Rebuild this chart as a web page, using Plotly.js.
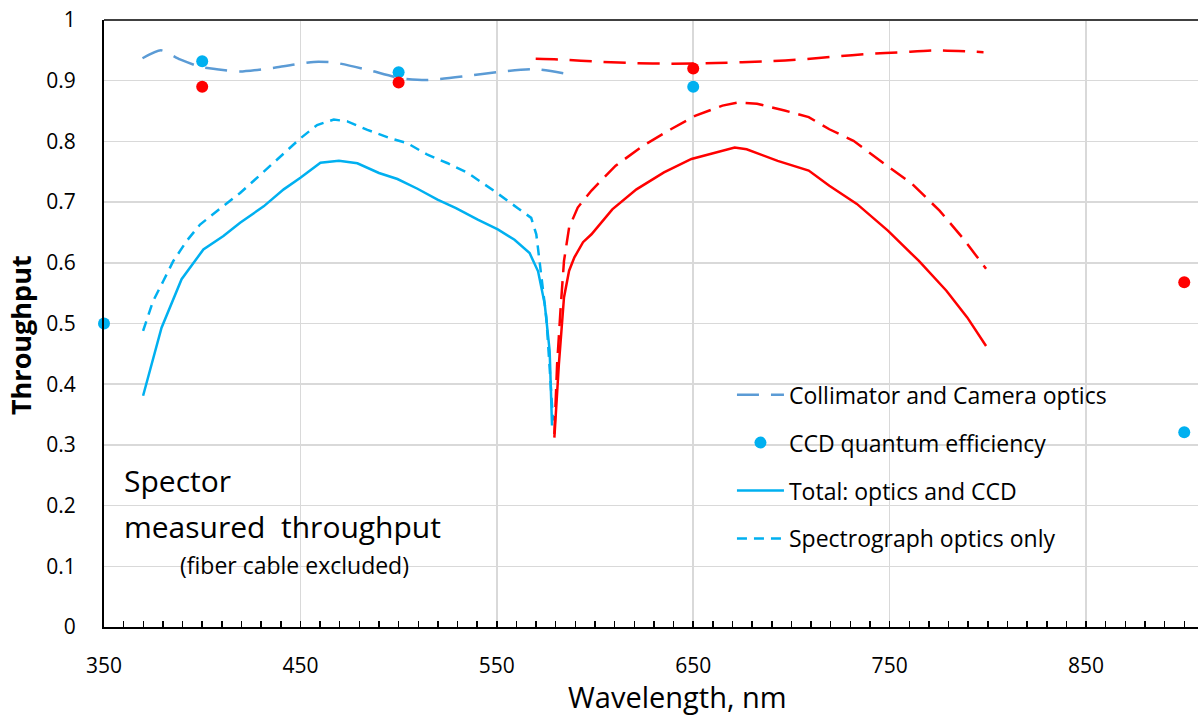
<!DOCTYPE html>
<html>
<head>
<meta charset="utf-8">
<script src="https://cdn.plot.ly/plotly-3.0.1.min.js"></script>
<style>
html,body{margin:0;padding:0;overflow:hidden;background:#fff;}
#chart{width:1198px;height:719px;}
</style>
</head>
<body>
<div id="chart"></div>
<script>
// Collimator and Camera optics (blue range)
const collBlueX = [369.6, 379, 388.7, 398.9, 407.4, 419.3, 438.1, 456.8, 467, 484.1, 501.1, 514.7, 535.2, 552.2, 569.3, 589.7];
const collBlueY = [0.937, 0.950, 0.935, 0.923, 0.919, 0.915, 0.922, 0.931, 0.930, 0.918, 0.904, 0.901, 0.908, 0.915, 0.919, 0.909];
// Collimator and Camera optics (red range)
const collRedX = [569.8, 581.7, 603.7, 620.7, 637.6, 661.4, 688.5, 705.4, 722.4, 739.3, 756.3, 773.2, 797.8];
const collRedY = [0.936, 0.935, 0.931, 0.929, 0.928, 0.929, 0.932, 0.935, 0.940, 0.944, 0.947, 0.950, 0.947];
// CCD quantum efficiency
const ccdBlueX = [350, 400, 500, 650, 900];
const ccdBlueY = [0.500, 0.932, 0.914, 0.890, 0.321];
const ccdRedX = [400, 500, 650, 900];
const ccdRedY = [0.890, 0.897, 0.920, 0.568];
// Total: optics and CCD (blue)
const totBlueX = [369.9, 379.3, 389.5, 400.6, 410.8, 419.3, 431.3, 441.5, 450, 460.2, 469.6, 479, 490, 499.4, 509.6, 519.8, 529.2, 540.3, 550.5, 559, 566.7, 571, 574.4, 576.9, 578.1];
const totBlueY = [0.381, 0.493, 0.573, 0.622, 0.644, 0.666, 0.693, 0.721, 0.740, 0.765, 0.768, 0.764, 0.748, 0.738, 0.722, 0.704, 0.690, 0.671, 0.655, 0.638, 0.616, 0.586, 0.532, 0.455, 0.332];
// Total: optics and CCD (red)
const totRedX = [579.3, 581.6, 584.2, 586.8, 589.5, 593.9, 598.2, 608.8, 621.1, 635.1, 649.1, 661.4, 671.1, 677.2, 693, 708.8, 719.3, 733.3, 749.1, 764.9, 778.9, 789.5, 799.1];
const totRedY = [0.312, 0.433, 0.543, 0.587, 0.609, 0.634, 0.647, 0.688, 0.721, 0.749, 0.771, 0.782, 0.790, 0.787, 0.768, 0.752, 0.727, 0.697, 0.653, 0.603, 0.554, 0.510, 0.463];
// Spectrograph optics only (blue)
const specBlueX = [369.9, 375, 380.2, 385.3, 392.1, 398.9, 407.4, 419.3, 429.6, 439.8, 450, 458.5, 467, 473.9, 484.1, 496, 504.5, 514.7, 525, 535.2, 548.8, 560.7, 567.5, 570.1, 572.7, 575.2, 576.9, 578.6];
const specBlueY = [0.488, 0.537, 0.570, 0.603, 0.636, 0.663, 0.685, 0.715, 0.745, 0.775, 0.805, 0.827, 0.836, 0.833, 0.819, 0.805, 0.797, 0.778, 0.764, 0.748, 0.718, 0.690, 0.674, 0.647, 0.581, 0.510, 0.427, 0.340];
// Spectrograph optics only (red)
const specRedX = [579.3, 580.7, 582.5, 584.2, 586.8, 591.2, 598.2, 610.5, 624.6, 638.6, 650.9, 664.9, 672.8, 682.5, 696.5, 708.8, 719.3, 731.6, 747.4, 761.4, 775.4, 787.7, 799.1];
const specRedY = [0.318, 0.433, 0.526, 0.603, 0.658, 0.691, 0.719, 0.760, 0.793, 0.820, 0.842, 0.859, 0.864, 0.862, 0.851, 0.840, 0.820, 0.801, 0.763, 0.730, 0.686, 0.639, 0.590];

const xTickVals = [350, 450, 550, 650, 750, 850];
const yTickVals = [0, 0.1, 0.2, 0.3, 0.4, 0.5, 0.6, 0.7, 0.8, 0.9, 1];
const yTickText = ['0', '0.1', '0.2', '0.3', '0.4', '0.5', '0.6', '0.7', '0.8', '0.9', '1'];

const legendNames = ['Collimator and Camera optics', 'CCD quantum efficiency', 'Total: optics and CCD', 'Spectrograph optics only'];

const BLUE = '#00B0F0', STEEL = '#5B9BD5', RED = '#FF0000';
const FONT = 'Open Sans, Liberation Sans, sans-serif';

const traces = [
  {x: collBlueX, y: collBlueY, mode: 'lines', name: legendNames[0], legendgroup: 'g1',
   line: {color: STEEL, width: 2.5, dash: '22px,12px', shape: 'spline', smoothing: 0.6}},
  {x: ccdBlueX, y: ccdBlueY, mode: 'markers', name: legendNames[1], legendgroup: 'g2',
   marker: {color: BLUE, size: 12}, cliponaxis: false},
  {x: totBlueX, y: totBlueY, mode: 'lines', name: legendNames[2], legendgroup: 'g3',
   line: {color: BLUE, width: 2.5}},
  {x: specBlueX, y: specBlueY, mode: 'lines', name: legendNames[3], legendgroup: 'g4',
   line: {color: BLUE, width: 2.5, dash: '10px,7px'}},
  {x: collRedX, y: collRedY, mode: 'lines', showlegend: false,
   line: {color: RED, width: 2.5, dash: '22px,12px', shape: 'spline', smoothing: 0.6}},
  {x: ccdRedX, y: ccdRedY, mode: 'markers', showlegend: false,
   marker: {color: RED, size: 12}, cliponaxis: false},
  {x: totRedX, y: totRedY, mode: 'lines', showlegend: false,
   line: {color: RED, width: 2.5}},
  {x: specRedX, y: specRedY, mode: 'lines', showlegend: false,
   line: {color: RED, width: 2.5, dash: '18px,9px'}}
];

const layout = {
  width: 1198, height: 719,
  margin: {l: 104, r: 0, t: 20, b: 92},
  paper_bgcolor: '#fff', plot_bgcolor: '#fff',
  font: {family: FONT, color: '#000'},
  showlegend: true,
  legend: {x: 0.574, xanchor: 'left', y: 0.418, yanchor: 'top', traceorder: 'grouped', tracegroupgap: 15,
    font: {family: FONT, size: 23, color: '#000'}, bgcolor: 'rgba(255,255,255,0)', itemwidth: 47},
  xaxis: {
    range: [350, 907], tickmode: 'array', tickvals: xTickVals, ticktext: xTickVals.map(String),
    ticks: 'inside', ticklen: 6, tickwidth: 1.5, tickcolor: '#000',
    minor: {dtick: 10, tick0: 350, ticks: 'inside', ticklen: 6, tickwidth: 1.5, tickcolor: '#000', showgrid: false},
    showgrid: true, gridcolor: '#d9d9d9', gridwidth: 1.5,
    showline: true, linecolor: '#000', linewidth: 2, zeroline: false,
    tickfont: {family: FONT, size: 21, color: '#000'}, ticklabelstandoff: 19
  },
  yaxis: {
    range: [0, 1], tickmode: 'array', tickvals: yTickVals, ticktext: yTickText,
    ticks: '', showgrid: true, gridcolor: '#d9d9d9', gridwidth: 1.5,
    showline: true, linecolor: '#000', linewidth: 2, zeroline: false,
    tickfont: {family: FONT, size: 21, color: '#000'}, ticklabelstandoff: 22
  },
  shapes: [
    {type: 'line', xref: 'paper', yref: 'paper', x0: 0, x1: 1, y0: 1, y1: 1, line: {color: '#404040', width: 2}}
  ],
  annotations: [
    {text: 'Wavelength, nm', xref: 'paper', yref: 'paper', x: 0.524, y: -0.115, xanchor: 'center', yanchor: 'middle', showarrow: false,
     font: {family: FONT, size: 29, color: '#000'}},
    {text: '<b>Throughput</b>', xref: 'paper', yref: 'paper', x: -0.0768, y: 0.481, xanchor: 'center', yanchor: 'middle', showarrow: false,
     textangle: -90, font: {family: FONT, size: 27, color: '#000'}},
    {text: 'Spector', xref: 'paper', yref: 'paper', x: 0.016, y: 0.242, xanchor: 'left', yanchor: 'middle', showarrow: false,
     font: {family: FONT, size: 30, color: '#000'}},
    {text: 'measured\u00A0\u00A0throughput', xref: 'paper', yref: 'paper', x: 0.016, y: 0.165, xanchor: 'left', yanchor: 'middle', showarrow: false,
     font: {family: FONT, size: 30, color: '#000'}},
    {text: '(fiber cable excluded)', xref: 'paper', yref: 'paper', x: 0.068, y: 0.102, xanchor: 'left', yanchor: 'middle', showarrow: false,
     font: {family: FONT, size: 23, color: '#000'}}
  ]
};

Plotly.newPlot('chart', traces, layout, {staticPlot: true, displayModeBar: false});
</script>
</body>
</html>
